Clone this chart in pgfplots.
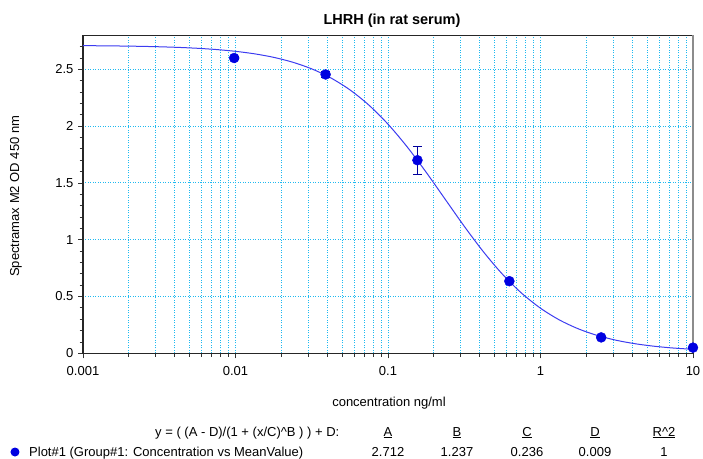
\documentclass[border=0pt]{standalone}
\usepackage{pgfplots}
\pgfplotsset{compat=1.18}
\usepackage{fontspec}
\setmainfont{Liberation Sans}

\definecolor{gridblue}{RGB}{30,185,240}
\definecolor{curveblue}{RGB}{60,60,240}
\definecolor{markblue}{RGB}{0,0,225}

\begin{document}
\begin{tikzpicture}
\fontsize{13bp}{15bp}\selectfont
\useasboundingbox (-83bp,-105.7bp) rectangle (620bp,353.3bp);
\begin{axis}[
    scale only axis,
    width=610bp, height=318bp,
    xmode=log,
    xmin=0.001, xmax=10, ymin=0, ymax=2.8,
    xtick={0.001,0.01,0.1,1,10},
    xticklabels={0.001,0.01,0.1,1,10},
    minor xtick={0.002,0.003,0.004,0.005,0.006,0.007,0.008,0.009,
                 0.02,0.03,0.04,0.05,0.06,0.07,0.08,0.09,
                 0.2,0.3,0.4,0.5,0.6,0.7,0.8,0.9,
                 2,3,4,5,6,7,8,9},
    ytick={0,0.5,1,1.5,2,2.5},
    yticklabels={0,0.5,1,1.5,2,2.5},
    minor ytick={0.1,0.2,0.3,0.4,0.6,0.7,0.8,0.9,1.1,1.2,1.3,1.4,1.6,1.7,1.8,1.9,2.1,2.2,2.3,2.4,2.6,2.7},
    xtick pos=bottom, ytick pos=left,
    tick align=outside,
    major tick length=5bp, minor tick length=3.5bp,
    tick style={black!80, line width=0.8bp},
    xmajorgrids, xminorgrids, ymajorgrids,
    grid style={gridblue, line width=0.9bp, dash pattern=on 0.9bp off 1.6bp},
    minor grid style={gridblue, line width=0.9bp, dash pattern=on 0.9bp off 1.6bp},
    axis line style={black!85, line width=1.2bp},
    ticklabel style={font=\fontsize{13bp}{15bp}\selectfont},
    xticklabel style={yshift=-4bp},
    clip=false,
]
% fitted 4PL curve, sampled values
\addplot[curveblue, line width=1bp, smooth, no marks] coordinates {
(0.001,2.7089) (0.0013335,2.7075) (0.0017783,2.7056) (0.0023714,2.7029)
(0.0031623,2.6990) (0.0042170,2.6935) (0.0056234,2.6857) (0.0074989,2.6746)
(0.01,2.6589) (0.013335,2.6369) (0.017783,2.6060) (0.023714,2.5631)
(0.031623,2.5044) (0.042170,2.4249) (0.056234,2.3200) (0.074989,2.1851)
(0.1,2.0176) (0.13335,1.8188) (0.17783,1.5947) (0.23714,1.3564)
(0.31623,1.1185) (0.42170,0.8951) (0.56234,0.6972) (0.74989,0.5309)
(1,0.3970) (1.3335,0.2930) (1.7783,0.2144) (2.3714,0.1562)
(3.1623,0.1138) (4.2170,0.0833) (5.6234,0.0615) (7.4989,0.0460)
(10,0.0350)
};
% mean values
\addplot[only marks, mark=*, mark size=5bp, color=markblue,
    error bars/.cd, y dir=both, y explicit,
    error bar style={color=markblue!70!black, line width=0.8bp},
    error mark options={rotate=90, mark size=4.5bp, line width=0.8bp, color=markblue!70!black}]
coordinates {
(0.0098,2.60) +- (0,0.01)
(0.039,2.455) +- (0,0.03)
(0.156,1.70) +- (0,0.122)
(0.625,0.635) +- (0,0.01)
(2.5,0.14) +- (0,0.005)
(10,0.05) +- (0,0.005)
};
\draw[black!45, line width=1.2bp] (rel axis cs:1,0) -- (rel axis cs:1,1);
\end{axis}
\node[font=\fontsize{14.5bp}{16bp}\selectfont\bfseries] at (309bp,332.5bp) {LHRH (in rat serum)};
\node[rotate=90] at (-67bp,157bp) {Spectramax M2 OD 450 nm};
\node[anchor=base] at (306bp,-52.7bp) {concentration ng/ml};
\node[anchor=base west, inner sep=0pt] at (72bp,-82.7bp) {y = ( (A - D)/(1 + (x/C)\textasciicircum B ) ) + D:};
\node[anchor=base, inner sep=0pt] at (305bp,-82.7bp) {\underline{A}};
\node[anchor=base, inner sep=0pt] at (374bp,-82.7bp) {\underline{B}};
\node[anchor=base, inner sep=0pt] at (444bp,-82.7bp) {\underline{C}};
\node[anchor=base, inner sep=0pt] at (512bp,-82.7bp) {\underline{D}};
\node[anchor=base, inner sep=0pt] at (581bp,-82.7bp) {\underline{R\textasciicircum 2}};
\fill[markblue] (-68bp,-98.7bp) circle (4.5bp);
\node[anchor=base west, inner sep=0pt] at (-54bp,-103.5bp) {Plot\#1 (Group\#1: Concentration vs MeanValue)};
\node[anchor=base, inner sep=0pt] at (305bp,-103.5bp) {2.712};
\node[anchor=base, inner sep=0pt] at (374bp,-103.5bp) {1.237};
\node[anchor=base, inner sep=0pt] at (444bp,-103.5bp) {0.236};
\node[anchor=base, inner sep=0pt] at (512bp,-103.5bp) {0.009};
\node[anchor=base, inner sep=0pt] at (581bp,-103.5bp) {1};
\end{tikzpicture}
\end{document}
